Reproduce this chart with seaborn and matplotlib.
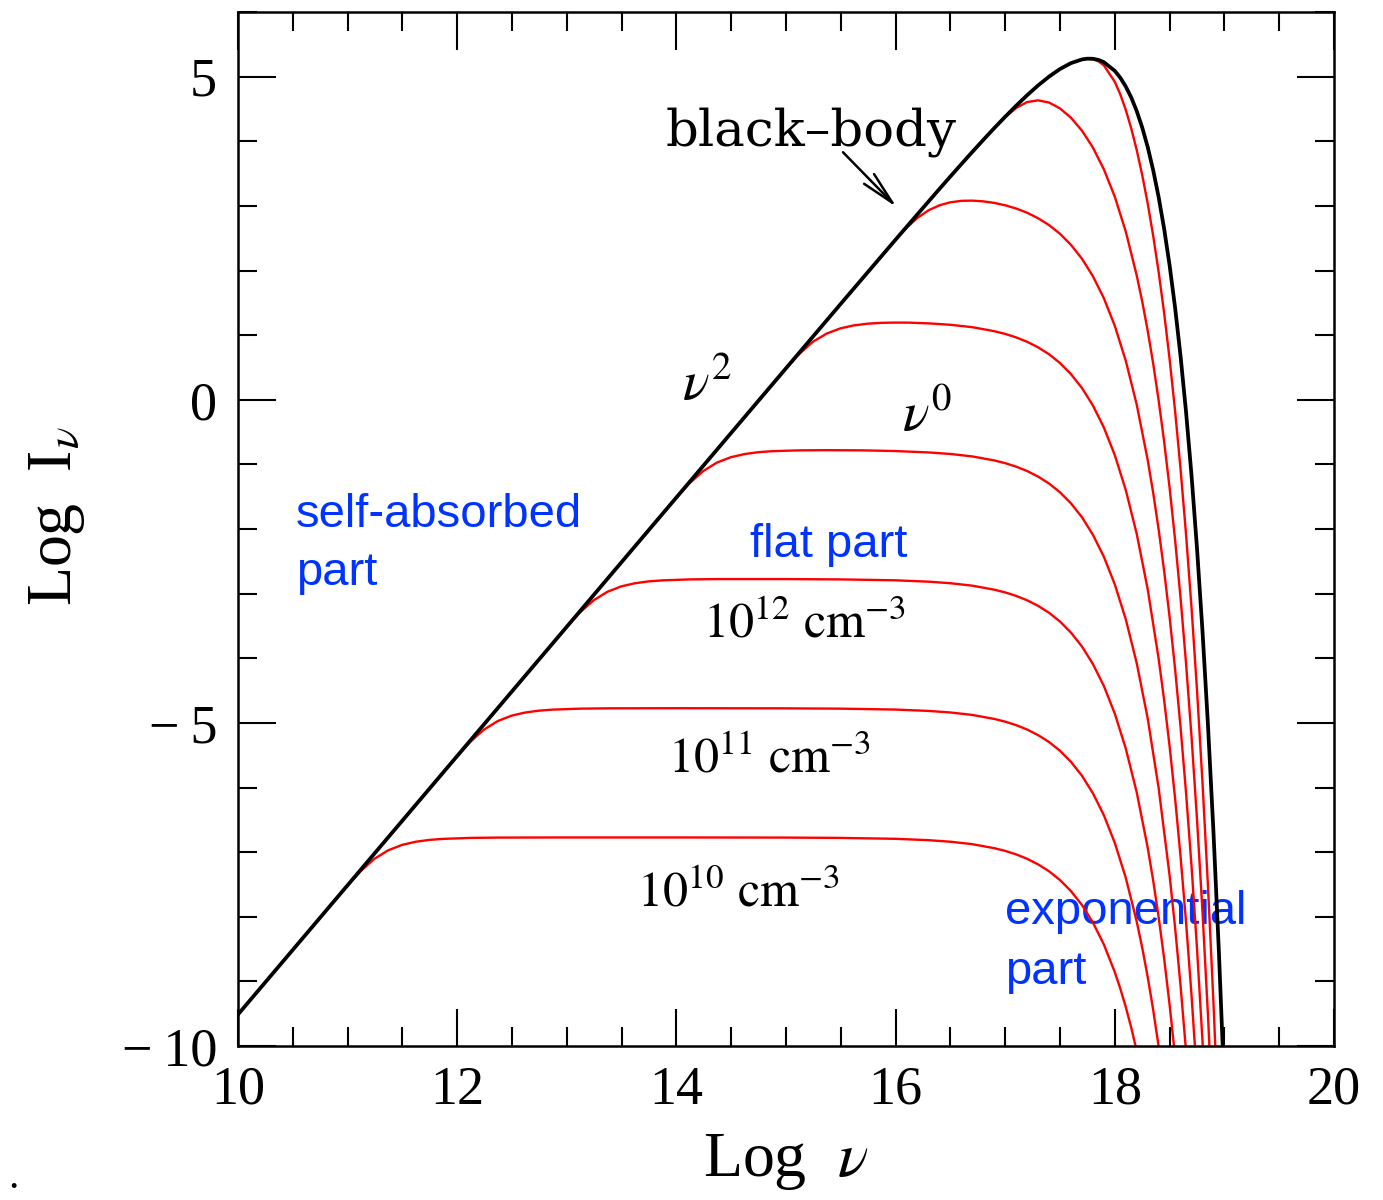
import matplotlib
matplotlib.use("Agg")
import matplotlib.pyplot as plt
from matplotlib.ticker import MultipleLocator, FuncFormatter
import pandas as pd
import seaborn as sns

# Black-body spectrum, T = 1e7 K (log frequency in Hz, log specific intensity)
bb_log_nu = [10.0, 11.0, 12.0, 13.0, 14.0, 15.0, 15.5, 16.0, 16.2, 16.4, 16.5, 16.6,
             16.7, 16.8, 16.9, 17.0, 17.1, 17.2, 17.3, 17.4, 17.5, 17.6, 17.7, 17.75,
             17.8, 17.85, 17.9, 18.0, 18.05, 18.1, 18.15, 18.2, 18.25, 18.3, 18.35,
             18.4, 18.45, 18.5, 18.55, 18.6, 18.65, 18.7, 18.75, 18.8, 18.85, 18.9,
             18.95, 19.0]
bb_log_I = [-9.512, -7.512, -5.512, -3.512, -1.512, 0.487, 1.485, 2.478, 2.871, 3.262,
            3.455, 3.646, 3.835, 4.021, 4.203, 4.380, 4.550, 4.712, 4.864, 5.000,
            5.118, 5.209, 5.266, 5.278, 5.276, 5.259, 5.224, 5.089, 4.983, 4.847,
            4.677, 4.467, 4.214, 3.912, 3.554, 3.136, 2.647, 2.081, 1.427, 0.674,
            -0.188, -1.170, -2.298, -3.577, -5.030, -6.681, -8.551, -10.666]

# Thermal bremsstrahlung spectra for electron densities 1e10 ... 1e17 cm^-3
n10_log_nu = [10.62, 10.87, 10.995, 11.12, 11.245, 11.37, 11.495, 11.62, 11.745, 11.87,
              12.12, 12.37, 13.0, 14.0, 15.0, 15.5, 16.0, 16.3, 16.5, 16.7, 16.9, 17.0,
              17.1, 17.2, 17.3, 17.4, 17.5, 17.6, 17.7, 17.8, 17.9, 18.0, 18.05, 18.1,
              18.15, 18.2, 18.25]
n10_log_I = [-8.273, -7.773, -7.525, -7.292, -7.103, -6.972, -6.889, -6.840, -6.811,
             -6.795, -6.780, -6.775, -6.773, -6.773, -6.775, -6.780, -6.794, -6.815,
             -6.839, -6.877, -6.939, -6.981, -7.035, -7.103, -7.189, -7.296, -7.432,
             -7.603, -7.817, -8.088, -8.428, -8.857, -9.111, -9.396, -9.716, -10.075,
             -10.478]

n11_log_nu = [11.62, 11.87, 11.995, 12.12, 12.245, 12.37, 12.495, 12.62, 12.745, 12.87,
              13.12, 13.37, 14.0, 15.0, 15.5, 16.0, 16.3, 16.5, 16.7, 16.9, 17.0, 17.1,
              17.2, 17.3, 17.4, 17.5, 17.6, 17.7, 17.8, 17.9, 18.0, 18.1, 18.2, 18.25,
              18.3, 18.35, 18.4, 18.45]
n11_log_I = [-6.273, -5.773, -5.525, -5.292, -5.103, -4.972, -4.889, -4.840, -4.811,
             -4.795, -4.780, -4.775, -4.773, -4.775, -4.780, -4.794, -4.815, -4.839,
             -4.877, -4.939, -4.981, -5.035, -5.103, -5.189, -5.296, -5.432, -5.603,
             -5.817, -6.088, -6.428, -6.857, -7.396, -8.075, -8.478, -8.930, -9.438,
             -10.007, -10.645]

n12_log_nu = [12.62, 12.87, 12.995, 13.12, 13.245, 13.37, 13.495, 13.62, 13.745, 13.87,
              14.12, 14.37, 15.0, 15.5, 16.0, 16.3, 16.5, 16.7, 16.9, 17.0, 17.1, 17.2,
              17.3, 17.4, 17.5, 17.6, 17.7, 17.8, 17.9, 18.0, 18.1, 18.2, 18.3, 18.35,
              18.4, 18.45, 18.5, 18.55]
n12_log_I = [-4.273, -3.773, -3.525, -3.292, -3.103, -2.972, -2.889, -2.840, -2.811,
             -2.795, -2.780, -2.775, -2.775, -2.780, -2.794, -2.815, -2.839, -2.877,
             -2.939, -2.981, -3.035, -3.103, -3.189, -3.296, -3.432, -3.603, -3.817,
             -4.088, -4.428, -4.857, -5.396, -6.075, -6.930, -7.438, -8.007, -8.645,
             -9.362, -10.165]

n13_log_nu = [13.62, 13.87, 13.995, 14.12, 14.245, 14.37, 14.495, 14.62, 14.745, 14.87,
              15.12, 15.37, 15.7, 16.0, 16.3, 16.5, 16.7, 16.9, 17.0, 17.1, 17.2, 17.3,
              17.4, 17.5, 17.6, 17.7, 17.8, 17.9, 18.0, 18.1, 18.2, 18.3, 18.4, 18.5,
              18.55, 18.6, 18.65]
n13_log_I = [-2.273, -1.773, -1.525, -1.292, -1.103, -0.972, -0.890, -0.841, -0.812,
             -0.796, -0.783, -0.780, -0.783, -0.794, -0.815, -0.839, -0.877, -0.939,
             -0.981, -1.035, -1.103, -1.189, -1.296, -1.432, -1.603, -1.817, -2.088,
             -2.428, -2.857, -3.396, -4.075, -4.930, -6.007, -7.362, -8.165, -9.068,
             -10.080]

n14_log_nu = [14.62, 14.87, 14.995, 15.12, 15.245, 15.37, 15.495, 15.62, 15.745, 15.87,
              16.0, 16.12, 16.3, 16.5, 16.7, 16.9, 17.0, 17.1, 17.2, 17.3, 17.4, 17.5,
              17.6, 17.7, 17.8, 17.9, 18.0, 18.1, 18.2, 18.3, 18.4, 18.45, 18.5, 18.55,
              18.6, 18.65, 18.7, 18.75]
n14_log_I = [-0.273, 0.227, 0.475, 0.708, 0.897, 1.023, 1.104, 1.151, 1.177, 1.190,
             1.194, 1.193, 1.182, 1.160, 1.123, 1.061, 1.019, 0.965, 0.897, 0.811,
             0.704, 0.568, 0.397, 0.183, -0.088, -0.428, -0.857, -1.396, -2.075,
             -2.930, -4.007, -4.645, -5.362, -6.165, -7.068, -8.080, -9.215, -10.490]

n15_log_nu = [15.6, 15.8, 16.0, 16.1, 16.2, 16.3, 16.4, 16.5, 16.6, 16.7, 16.8, 16.9,
              17.0, 17.1, 17.2, 17.3, 17.4, 17.5, 17.6, 17.7, 17.8, 17.9, 18.0, 18.1,
              18.2, 18.3, 18.35, 18.4, 18.45, 18.5, 18.55, 18.6, 18.65, 18.7, 18.75,
              18.8, 18.85]
n15_log_I = [1.684, 2.081, 2.476, 2.660, 2.815, 2.931, 3.009, 3.055, 3.078, 3.081,
             3.070, 3.046, 3.009, 2.959, 2.894, 2.809, 2.703, 2.568, 2.397, 2.183,
             1.912, 1.572, 1.144, 0.604, -0.075, -0.930, -1.438, -2.007, -2.645,
             -3.362, -4.165, -5.068, -6.080, -7.215, -8.490, -9.919, -11.522]

n16_log_nu = [16.6, 16.7, 16.8, 16.9, 17.0, 17.1, 17.2, 17.3, 17.4, 17.5, 17.6, 17.7,
              17.8, 17.9, 18.0, 18.1, 18.2, 18.25, 18.3, 18.35, 18.4, 18.45, 18.5,
              18.55, 18.6, 18.65, 18.7, 18.75, 18.8, 18.85, 18.9]
n16_log_I = [3.646, 3.835, 4.021, 4.203, 4.374, 4.516, 4.606, 4.633, 4.599, 4.508,
             4.364, 4.165, 3.903, 3.567, 3.141, 2.603, 1.924, 1.522, 1.070, 0.562,
             -0.007, -0.645, -1.362, -2.165, -3.068, -4.080, -5.215, -6.490, -7.919,
             -9.522, -11.323]

n17_log_nu = [17.5, 17.6, 17.7, 17.75, 17.8, 17.85, 17.9, 18.0, 18.05, 18.1, 18.15,
              18.2, 18.25, 18.3, 18.35, 18.4, 18.45, 18.5, 18.55, 18.6, 18.65, 18.7,
              18.75, 18.8, 18.85, 18.9, 18.95]
n17_log_I = [5.118, 5.209, 5.266, 5.277, 5.270, 5.239, 5.175, 4.920, 4.726, 4.486,
             4.199, 3.864, 3.479, 3.039, 2.540, 1.978, 1.344, 0.630, -0.171, -1.072,
             -2.083, -3.217, -4.491, -5.920, -7.522, -9.323, -11.343]

density_labels = [r"$10^{12}\ \mathrm{cm}^{-3}$",
                  r"$10^{11}\ \mathrm{cm}^{-3}$",
                  r"$10^{10}\ \mathrm{cm}^{-3}$"]
x_ticks = [10, 12, 14, 16, 18, 20]
y_ticks = [-10, -5, 0, 5]

spectra = {
    "1e10": (n10_log_nu, n10_log_I),
    "1e11": (n11_log_nu, n11_log_I),
    "1e12": (n12_log_nu, n12_log_I),
    "1e13": (n13_log_nu, n13_log_I),
    "1e14": (n14_log_nu, n14_log_I),
    "1e15": (n15_log_nu, n15_log_I),
    "1e16": (n16_log_nu, n16_log_I),
    "1e17": (n17_log_nu, n17_log_I),
}
red_df = pd.concat(
    [pd.DataFrame({"log_nu": xs, "log_I": ys, "density": name})
     for name, (xs, ys) in spectra.items()],
    ignore_index=True)
bb_df = pd.DataFrame({"log_nu": bb_log_nu, "log_I": bb_log_I})

sns.set_theme(style="white")
plt.rcParams["font.family"] = ["Liberation Serif", "DejaVu Serif"]
plt.rcParams["mathtext.fontset"] = "stix"
for key in ("text.color", "axes.labelcolor", "xtick.color", "ytick.color",
            "axes.edgecolor"):
    plt.rcParams[key] = "black"

W, H = 1383, 1200
fig = plt.figure(figsize=(W / 100, H / 100), dpi=100)
fig.patch.set_facecolor("white")
ax = fig.add_axes([238 / W, 1 - 1046 / H, (1334 - 238) / W, (1046 - 12) / H])
ax.set_facecolor("white")

sns.lineplot(data=red_df, x="log_nu", y="log_I", units="density", estimator=None,
             sort=False, color="#ff0000", linewidth=1.7, ax=ax, legend=False,
             zorder=2)
sns.lineplot(data=bb_df, x="log_nu", y="log_I", estimator=None, sort=False,
             color="black", linewidth=2.7, ax=ax, legend=False, zorder=3)

ax.set_xlim(10, 20)
ax.set_ylim(-10, 6)
ax.set_xticks(x_ticks)
ax.set_yticks(y_ticks)
ax.xaxis.set_minor_locator(MultipleLocator(0.5))
ax.yaxis.set_minor_locator(MultipleLocator(1))


def signed_label(v, pos):
    v = int(round(v))
    return f"\u2212\u2009{abs(v)}" if v < 0 else f"{v}"


ax.yaxis.set_major_formatter(FuncFormatter(signed_label))
ax.tick_params(which="both", direction="in", top=True, right=True, bottom=True,
               left=True, color="black", width=1.5, labelcolor="black")
ax.tick_params(which="major", length=27, labelsize=39)
ax.tick_params(which="minor", length=14)
ax.tick_params(axis="x", which="major", pad=14)
ax.tick_params(axis="y", which="major", pad=15)
for side in ax.spines.values():
    side.set_linewidth(1.8)
    side.set_color("black")

ax.set_xlabel(r"Log  $\nu$", fontsize=46, color="black")
ax.set_ylabel(r"Log  I$_{\nu}$", fontsize=46, color="black")
ax.xaxis.set_label_coords(0.5, -0.083)
ax.yaxis.set_label_coords(-0.138, 0.512)

# Annotations
ax.text(13.90, 3.94, "black–body", fontsize=37, family="DejaVu Serif",
        ha="left", va="baseline", color="black")
ax.annotate("", xy=(16.01, 2.98), xytext=(15.52, 3.83),
            arrowprops=dict(arrowstyle="->,head_length=1.2,head_width=0.25",
                            color="black", lw=1.8, mutation_scale=20,
                            shrinkA=0, shrinkB=0))
ax.text(14.05, 0.0, r"$\nu^{2}$", fontsize=40, ha="left", va="baseline",
        color="black")
ax.text(16.06, -0.49, r"$\nu^{0}$", fontsize=40, ha="left", va="baseline",
        color="black")

blue = "#0033ff"
sans = ["Liberation Sans", "DejaVu Sans"]
ax.text(10.529, -1.963, "self-absorbed", color=blue, fontsize=34, family=sans,
        ha="left", va="baseline")
ax.text(10.529, -2.859, "part", color=blue, fontsize=34, family=sans,
        ha="left", va="baseline")
ax.text(14.672, -2.427, "flat part", color=blue, fontsize=34, family=sans,
        ha="left", va="baseline")
ax.text(17.00, -8.114, "exponential", color=blue, fontsize=34, family=sans,
        ha="left", va="baseline", zorder=1)
ax.text(17.00, -9.04, "part", color=blue, fontsize=34, family=sans,
        ha="left", va="baseline", zorder=1)

for (x, y), label in zip([(14.24, -3.68), (13.92, -5.77), (13.64, -7.84)],
                         density_labels):
    ax.text(x, y, label, fontsize=36, ha="left", va="baseline", color="black")

fig.text(8 / W, 1 - 1188 / H, ".", fontsize=30, ha="left", va="baseline",
         color="black")

fig.savefig("out.png", dpi=100, facecolor="white")
